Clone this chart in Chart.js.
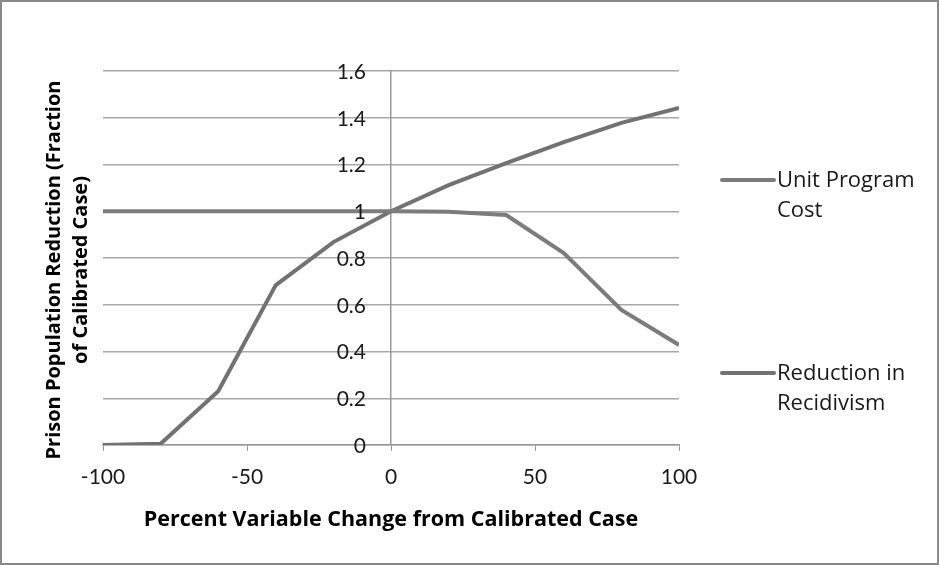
<!DOCTYPE html>
<html>
<head>
<meta charset="utf-8">
<script src="https://cdn.jsdelivr.net/npm/chart.js@4.4.1/dist/chart.umd.min.js"></script>
<style>
  html, body { margin: 0; padding: 0; background: #fff; }
  canvas { display: block; }
</style>
</head>
<body>
<canvas id="chart" width="939" height="565"></canvas>
<script>
// percent change applied to each variable
const pctChange = [-100, -80, -60, -40, -20, 0, 20, 40, 60, 80, 100];

// prison population reduction, as a fraction of the calibrated case
const unitProgramCost = [1, 1, 1, 1, 1, 1, 0.998, 0.984, 0.821, 0.578, 0.428];
const reductionInRecidivism = [0, 0.005, 0.23, 0.684, 0.868, 1, 1.112, 1.206, 1.296, 1.378, 1.442];

const seriesNames = ['Unit Program Cost', 'Reduction in Recidivism'];
const legendLines = [['Unit Program', 'Cost'], ['Reduction in', 'Recidivism']];

const xTickLabels = ['-100', '-50', '0', '50', '100'];
const yTickLabels = ['0', '0.2', '0.4', '0.6', '0.8', '1', '1.2', '1.4', '1.6'];

const xTitle = 'Percent Variable Change from Calibrated Case';
const yTitleLines = ['Prison Population Reduction (Fraction', 'of Calibrated Case)'];

const TICK_FONT = 'Lato, "Open Sans", sans-serif';
const TEXT_FONT = '"Open Sans", Lato, sans-serif';
const lineColors = ['#7c7c7c', '#727272'];

function toPoints(ys) {
    return pctChange.map((x, i) => ({ x: x, y: ys[i] }));
}

// frame, y labels, y title and the legend are painted by hand
const decorations = {
    id: 'decorations',
    beforeDraw(chart) {
        const ctx = chart.ctx;
        ctx.save();
        ctx.fillStyle = '#fff';
        ctx.fillRect(0, 0, chart.width, chart.height);
        ctx.restore();
    },
    afterDraw(chart) {
        const ctx = chart.ctx;
        const area = chart.chartArea;
        const xs = chart.scales.x;
        const ys = chart.scales.y;
        ctx.save();

        // outer frame
        ctx.strokeStyle = '#8a8a8a';
        ctx.lineWidth = 2;
        ctx.strokeRect(1, 1, chart.width - 2, chart.height - 2);

        // y tick labels sit a little left of the axis drawn through x = 0
        ctx.fillStyle = '#1a1a1a';
        ctx.font = '21px ' + TICK_FONT;
        ctx.textAlign = 'right';
        ctx.textBaseline = 'middle';
        const axisX = xs.getPixelForValue(0);
        ys.ticks.forEach((t, i) => {
            ctx.fillText(yTickLabels[i], axisX - 25, ys.getPixelForValue(t.value) + 1);
        });

        // y axis title, rotated
        ctx.fillStyle = '#000';
        ctx.font = 'bold 20px ' + TEXT_FONT;
        ctx.textAlign = 'center';
        ctx.translate(0, (area.top + area.bottom) / 2 + 12);
        ctx.rotate(-Math.PI / 2);
        yTitleLines.forEach((line, i) => ctx.fillText(line, 0, 54 + i * 27));
        ctx.setTransform(1, 0, 0, 1, 0, 0);

        // legend
        const entryY = [180, 373];
        ctx.font = '22px ' + TEXT_FONT;
        ctx.textAlign = 'left';
        chart.data.datasets.forEach((ds, i) => {
            const y = entryY[i];
            ctx.strokeStyle = ds.borderColor;
            ctx.lineWidth = 4;
            ctx.lineCap = 'round';
            ctx.beginPath();
            ctx.moveTo(722, y);
            ctx.lineTo(774, y);
            ctx.stroke();
            ctx.fillStyle = '#1a1a1a';
            legendLines[i].forEach((t, j) => ctx.fillText(t, 777, y + 1 + j * 30));
        });
        ctx.restore();
    }
};

new Chart(document.getElementById('chart'), {
    type: 'scatter',
    data: {
        datasets: [
            {
                label: seriesNames[0],
                data: toPoints(unitProgramCost),
                showLine: true,
                borderColor: lineColors[0],
                backgroundColor: lineColors[0],
                borderWidth: 4,
                pointRadius: 0
            },
            {
                label: seriesNames[1],
                data: toPoints(reductionInRecidivism),
                showLine: true,
                borderColor: lineColors[1],
                backgroundColor: lineColors[1],
                borderWidth: 4,
                pointRadius: 0
            }
        ]
    },
    options: {
        responsive: false,
        animation: false,
        devicePixelRatio: 1,
        layout: { padding: { left: 103, right: 260, top: 71, bottom: 0 } },
        plugins: {
            legend: { display: false },
            tooltip: { enabled: false }
        },
        scales: {
            x: {
                type: 'linear',
                min: -100,
                max: 100,
                afterFit(scale) { scale.height = 120; },
                ticks: {
                    stepSize: 50,
                    padding: 14,
                    color: '#1a1a1a',
                    font: { family: TICK_FONT, size: 21 },
                    callback: (v, i) => xTickLabels[i]
                },
                grid: {
                    drawOnChartArea: false,
                    drawTicks: true,
                    tickLength: 6,
                    color: '#9a9a9a'
                },
                border: { display: true, color: '#9a9a9a', width: 1.5 },
                title: {
                    display: true,
                    text: xTitle,
                    color: '#000',
                    font: { family: TEXT_FONT, size: 21.5, weight: 'bold' },
                    padding: { top: 0, bottom: 32 }
                }
            },
            y: {
                type: 'linear',
                min: 0,
                max: 1.6,
                position: { x: 0 },
                ticks: {
                    stepSize: 0.2,
                    display: false
                },
                grid: {
                    drawTicks: false,
                    color: '#a8a8a8',
                    lineWidth: 1.5
                },
                border: { display: true, color: '#9a9a9a', width: 1.5 }
            }
        }
    },
    plugins: [decorations]
});
</script>
</body>
</html>
